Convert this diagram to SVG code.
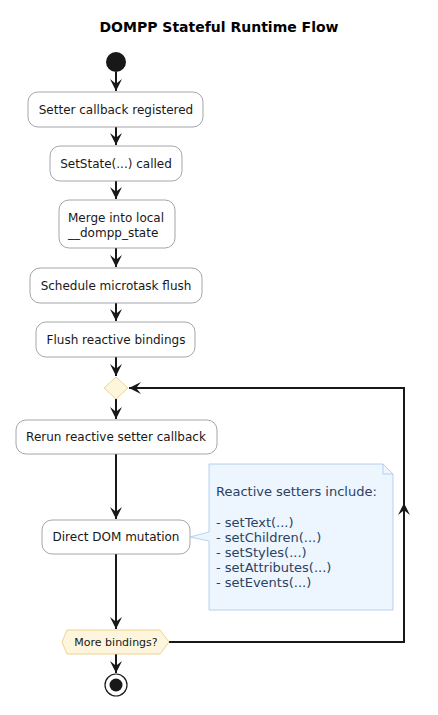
<svg xmlns="http://www.w3.org/2000/svg" width="438" height="715" viewBox="0 0 438 715">
<defs>
<style>
.box{fill:#FFFFFF;stroke:#8C8F96;stroke-width:0.8}
.t{font-family:"DejaVu Sans",sans-serif;font-size:12px;fill:#181818;text-anchor:middle}
.tl{font-family:"DejaVu Sans",sans-serif;font-size:12px;fill:#181818;text-anchor:start}
.c{fill:none;stroke:#181818;stroke-width:2}
.nt{font-family:"DejaVu Sans",sans-serif;font-size:13px;fill:#2B4263}
</style>
<marker id="ah" markerUnits="userSpaceOnUse" markerWidth="12" markerHeight="12" refX="10" refY="5" orient="auto" viewBox="0 0 10 10">
<path d="M10,5 L0,0 L4,5 L0,10 Z" fill="#181818"/>
</marker>
</defs>
<rect width="438" height="715" fill="#FFFFFF"/>
<text x="219" y="32" font-family="DejaVu Sans,sans-serif" font-size="14" font-weight="bold" text-anchor="middle" fill="#000">DOMPP Stateful Runtime Flow</text>

<g id="connectors">
<path class="c" d="M116,72 L116,91" marker-end="url(#ah)"/>
<path class="c" d="M116,127 L116,145" marker-end="url(#ah)"/>
<path class="c" d="M116,181 L116,199" marker-end="url(#ah)"/>
<path class="c" d="M116,248 L116,267" marker-end="url(#ah)"/>
<path class="c" d="M116,303 L116,321" marker-end="url(#ah)"/>
<path class="c" d="M116,357 L116,376" marker-end="url(#ah)"/>
<path class="c" d="M116,399 L116,419" marker-end="url(#ah)"/>
<path class="c" d="M116,454 L116,519" marker-end="url(#ah)"/>
<path class="c" d="M116,554 L116,629" marker-end="url(#ah)"/>
<path class="c" d="M116,654 L116,673" marker-end="url(#ah)"/>
<path class="c" d="M169,642 L404,642 L404,503" marker-end="url(#ah)"/>
<path class="c" d="M404,503 L404,388 L129,388" marker-end="url(#ah)"/>
</g>

<g id="start"><circle cx="116" cy="62" r="10" fill="#181818"/></g>

<g id="n1"><rect class="box" x="28" y="92" width="175" height="35" rx="10"/><text class="t" x="116" y="114">Setter callback registered</text></g>
<g id="n2"><rect class="box" x="50" y="146" width="132" height="35" rx="10"/><text class="t" x="116" y="168">SetState(...) called</text></g>
<g id="n3"><rect class="box" x="59" y="200" width="116" height="48" rx="10"/><text class="tl" x="68" y="222">Merge into local</text><text class="tl" x="68" y="237">__dompp_state</text></g>
<g id="n4"><rect class="box" x="30" y="268" width="172" height="35" rx="10"/><text class="t" x="116" y="290">Schedule microtask flush</text></g>
<g id="n5"><rect class="box" x="36" y="322" width="159" height="35" rx="10"/><text class="t" x="116" y="344">Flush reactive bindings</text></g>
<g id="merge"><polygon points="116,377 128,388 116,399 104,388" fill="#FEF6DC" stroke="#E9C978" stroke-width="0.8"/></g>
<g id="n6"><rect class="box" x="16" y="420" width="201" height="34" rx="10"/><text class="t" x="116" y="441">Rerun reactive setter callback</text></g>
<g id="n7"><rect class="box" x="42" y="520" width="148" height="34" rx="10"/><text class="t" x="116" y="541">Direct DOM mutation</text></g>
<g id="note">
<path d="M209,464 L383,464 L393,474 L393,610 L209,610 L209,541 L190,537 L209,532 Z" fill="#EDF5FE" stroke="#A7C6EE" stroke-width="0.8"/>
<path d="M383,464 L383,474 L393,474" fill="none" stroke="#A7C6EE" stroke-width="0.8"/>
<text class="nt" x="216" y="496">Reactive setters include:</text>
<text class="nt" x="216" y="527">- setText(...)</text>
<text class="nt" x="216" y="542">- setChildren(...)</text>
<text class="nt" x="216" y="557">- setStyles(...)</text>
<text class="nt" x="216" y="572">- setAttributes(...)</text>
<text class="nt" x="216" y="587">- setEvents(...)</text>
</g>
<g id="decision"><polygon points="62,642 67,630 160,630 169,642 160,654 67,654" fill="#FEF6DC" stroke="#E9C978" stroke-width="0.8"/><text class="t" x="116" y="646" style="font-size:11px">More bindings?</text></g>
<g id="end"><circle cx="116" cy="685" r="11" fill="#FFFFFF" stroke="#181818" stroke-width="1.2"/><circle cx="116" cy="685" r="6.5" fill="#181818"/></g>
</svg>
